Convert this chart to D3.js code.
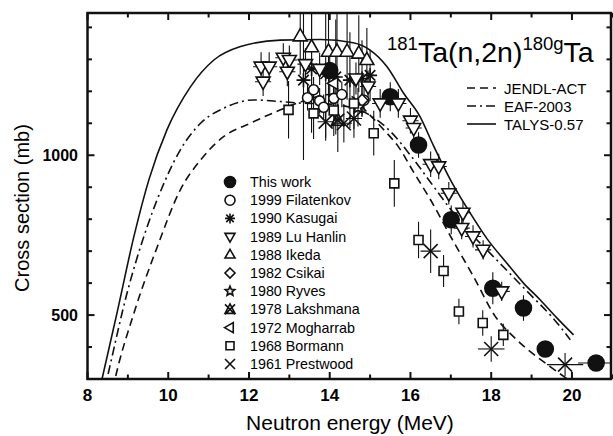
<!DOCTYPE html>
<html>
<head>
<meta charset="utf-8">
<script src="https://cdn.jsdelivr.net/npm/d3@7"></script>
<style>
  body { margin: 0; background: #fff; }
  svg { font-family: Arial, "Liberation Sans", sans-serif; }
</style>
</head>
<body>
<svg id="chart" width="613" height="436"></svg>
<script>
// model curves [E (MeV), sigma (mb)]
const talysCurve = [[8.2,210],[8.36,300],[8.73,506],[9.15,746],[9.52,923],[9.97,1080],[10.55,1214],[11.13,1298],[11.79,1340],[12.78,1360],[13.77,1362],[14.58,1352],[15.0,1329],[15.42,1277],[15.83,1194],[16.24,1120],[16.57,1030],[16.99,923],[17.45,825],[17.89,740],[18.39,662],[18.8,600],[19.21,548],[19.62,492],[20.04,438]];
const eafCurve = [[8.3,200],[8.49,304],[8.98,569],[9.48,777],[9.93,923],[10.3,1017],[10.8,1100],[11.37,1147],[12.12,1173],[12.78,1168],[13.3,1163],[14.0,1160],[14.5,1150],[15.0,1125],[15.5,1075],[16.0,1000],[16.5,915],[17.0,830],[17.5,755],[18.0,690],[18.5,625],[19.0,560],[19.5,495],[19.96,423]];
const jendlCurve = [[8.5,190],[8.69,304],[9.15,506],[9.73,714],[10.3,892],[10.8,985],[11.37,1058],[12.03,1100],[12.78,1142],[13.35,1170],[14.0,1190],[14.5,1185],[14.96,1130],[15.38,1074],[15.7,1027],[16.07,949],[16.5,860],[17.03,738],[17.56,621],[18.1,496],[18.63,423],[19.46,339],[20.0,290]];

// measurements [E, sigma, dE, dSigma]
const thisWork = [[14.0,1265,0.1,80],[15.5,1183,0.1,45],[16.2,1032,0.1,40],[17.01,798,0.1,45],[18.04,584,0.1,50],[18.8,522,0.1,40],[19.34,394,0.1,25],[20.6,350,0.45,20]];
const filatenkov = [[13.45,1180,0.1,40],[13.6,1205,0.1,40],[13.75,1170,0.1,40],[13.85,1150,0.1,40],[14.1,1178,0.1,40],[14.3,1190,0.1,40],[14.85,1172,0.1,40]];
const kasugai = [[13.35,1235,0.1,250],[13.55,1270,0.1,200],[13.9,1255,0.1,200],[14.15,1245,0.1,180],[14.5,1235,0.1,150],[14.8,1240,0.1,120],[15.0,1250,0.1,80]];
const luHanlin = [[12.3,1277,0.2,45],[12.5,1277,0.2,45],[12.35,1230,0.2,45],[12.85,1305,0.2,45],[13.0,1298,0.2,45],[12.95,1261,0.2,45],[13.4,1285,0.2,50],[13.75,1270,0.2,50],[14.65,1240,0.2,50],[14.95,1215,0.2,50],[15.25,1162,0.2,45],[15.7,1162,0.2,45],[16.0,1108,0.2,40],[16.08,1085,0.2,40],[16.5,972,0.2,40],[16.7,965,0.2,40],[16.95,881,0.2,35],[17.3,820,0.2,35],[17.27,772,0.2,35],[17.55,746,0.2,35],[17.8,704,0.2,30],[18.26,574,0.2,30]];
const ikeda = [[13.27,1372,0.1,120],[13.55,1338,0.1,150],[13.97,1324,0.1,180],[14.18,1324,0.1,160],[14.43,1324,0.1,150],[14.72,1318,0.1,120],[14.92,1298,0.1,100]];
const csikai = [[14.8,1172,0.1,50]];
const ryves = [[14.7,1150,0.1,60]];
const lakshmana = [[14.2,1110,0.1,100]];
const mogharrab = [[14.1,1225,0.1,60]];
const bormann = [[12.98,1142,0,90],[13.6,1131,0,80],[14.1,1140,0,80],[14.6,1162,0,80],[15.09,1069,0,70],[15.6,912,0,73],[16.2,735,0,57],[16.82,638,0,50],[17.2,511,0,40],[17.79,475,0,40],[18.3,438,0,35]];
const prestwood = [[13.9,1105,0.2,60],[14.35,1100,0.2,60],[14.6,1115,0.2,60],[16.5,700,0.25,68],[18.0,394,0.33,40],[19.83,345,0.45,36]];

const xTicks = [8, 10, 12, 14, 16, 18, 20];
const yTicks = [500, 1000];

const svg = d3.select('#chart');
const mLeft = 87.5, mRight = 611, mTop = 13, mBottom = 379;

const x = d3.scaleLinear().domain([8, 21]).range([mLeft, mLeft + 13 * 40.37]);
const y = d3.scaleLinear().domain([300, 1445]).range([mBottom, mTop]);

svg.append('defs').append('clipPath').attr('id', 'clip')
  .append('rect').attr('x', mLeft).attr('y', mTop).attr('width', mRight - mLeft).attr('height', mBottom - mTop);

// marker shapes, s = half size
function markerPath(type, s) {
  const p = d3.path();
  if (type === 'circle') { p.moveTo(s, 0); p.arc(0, 0, s, 0, 2 * Math.PI); p.closePath(); }
  else if (type === 'square') { p.rect(-s, -s, 2 * s, 2 * s); }
  else if (type === 'triUp') { p.moveTo(0, -s * 1.1); p.lineTo(s, s * 0.65); p.lineTo(-s, s * 0.65); p.closePath(); }
  else if (type === 'triDown') { p.moveTo(0, s * 1.1); p.lineTo(s, -s * 0.65); p.lineTo(-s, -s * 0.65); p.closePath(); }
  else if (type === 'triLeft') { p.moveTo(-s * 1.1, 0); p.lineTo(s * 0.65, -s); p.lineTo(s * 0.65, s); p.closePath(); }
  else if (type === 'diamond') { p.moveTo(0, -s); p.lineTo(s, 0); p.lineTo(0, s); p.lineTo(-s, 0); p.closePath(); }
  else if (type === 'star') {
    for (let i = 0; i < 10; i++) {
      const r = i % 2 ? s * 0.45 : s;
      const a = -Math.PI / 2 + i * Math.PI / 5;
      if (i === 0) p.moveTo(r * Math.cos(a), r * Math.sin(a)); else p.lineTo(r * Math.cos(a), r * Math.sin(a));
    }
    p.closePath();
  }
  else if (type === 'asterisk') {
    p.moveTo(0, -s); p.lineTo(0, s); p.moveTo(-s, 0); p.lineTo(s, 0);
    const d = s * 0.75;
    p.moveTo(-d, -d); p.lineTo(d, d); p.moveTo(-d, d); p.lineTo(d, -d);
  }
  else if (type === 'cross') { p.moveTo(-s, -s); p.lineTo(s, s); p.moveTo(-s, s); p.lineTo(s, -s); }
  else if (type === 'triCross') {
    p.moveTo(0, -s * 1.1); p.lineTo(s, s * 0.8); p.lineTo(-s, s * 0.8); p.closePath();
    p.moveTo(-s, -s); p.lineTo(s, s); p.moveTo(-s, s); p.lineTo(s, -s);
  }
  return p.toString();
}

const series = [
  { name: 'This work', data: thisWork, type: 'circle', size: 8, fill: '#111' },
  { name: '1999 Filatenkov', data: filatenkov, type: 'circle', size: 5, fill: '#fff' },
  { name: '1990 Kasugai', data: kasugai, type: 'asterisk', size: 7, fill: 'none' },
  { name: '1989 Lu Hanlin', data: luHanlin, type: 'triDown', size: 7, fill: '#fff' },
  { name: '1988 Ikeda', data: ikeda, type: 'triUp', size: 7, fill: '#fff' },
  { name: '1982 Csikai', data: csikai, type: 'diamond', size: 6, fill: '#fff' },
  { name: '1980 Ryves', data: ryves, type: 'star', size: 6.5, fill: '#fff' },
  { name: '1978 Lakshmana', data: lakshmana, type: 'triCross', size: 6.5, fill: 'none' },
  { name: '1972 Mogharrab', data: mogharrab, type: 'triLeft', size: 6, fill: '#fff' },
  { name: '1968 Bormann', data: bormann, type: 'square', size: 4.5, fill: '#fff' },
  { name: '1961 Prestwood', data: prestwood, type: 'cross', size: 7, fill: 'none' }
];

const plot = svg.append('g').attr('clip-path', 'url(#clip)');

// curves
const line = d3.line().x(d => x(d[0])).y(d => y(d[1])).curve(d3.curveMonotoneX);
const curves = [
  { name: 'JENDL-ACT', data: jendlCurve, dash: '8,5' },
  { name: 'EAF-2003', data: eafCurve, dash: '9,4,2,4' },
  { name: 'TALYS-0.57', data: talysCurve, dash: null }
];
curves.forEach(c => {
  plot.append('path').datum(c.data).attr('d', line)
    .attr('fill', 'none').attr('stroke', '#111').attr('stroke-width', 1.6)
    .attr('stroke-dasharray', c.dash);
});

// error bars
series.forEach(sr => {
  const g = plot.append('g').attr('stroke', '#111').attr('stroke-width', 1.1);
  sr.data.forEach(d => {
    g.append('line').attr('x1', x(d[0])).attr('x2', x(d[0])).attr('y1', y(d[1] - d[3])).attr('y2', y(d[1] + d[3]));
    if (d[2] > 0) g.append('line').attr('x1', x(d[0] - d[2])).attr('x2', x(d[0] + d[2])).attr('y1', y(d[1])).attr('y2', y(d[1]));
  });
});

// markers
series.forEach(sr => {
  plot.append('g').selectAll('path').data(sr.data).enter().append('path')
    .attr('transform', d => `translate(${x(d[0])},${y(d[1])})`)
    .attr('d', markerPath(sr.type, sr.size))
    .attr('fill', sr.fill).attr('stroke', '#111').attr('stroke-width', 1.6);
});

// frame and ticks
svg.append('rect').attr('x', mLeft).attr('y', mTop).attr('width', mRight - mLeft).attr('height', mBottom - mTop)
  .attr('fill', 'none').attr('stroke', '#111').attr('stroke-width', 2.5);

const tickG = svg.append('g').attr('stroke', '#111').attr('stroke-width', 2);
d3.range(8, 21.01, 1).forEach(v => {
  const len = v % 2 === 0 ? 7 : 4.5;
  tickG.append('line').attr('x1', x(v)).attr('x2', x(v)).attr('y1', mBottom).attr('y2', mBottom - len);
  tickG.append('line').attr('x1', x(v)).attr('x2', x(v)).attr('y1', mTop).attr('y2', mTop + len);
});
d3.range(300, 1401, 100).forEach(v => {
  const len = v % 500 === 0 ? 7 : 4.5;
  tickG.append('line').attr('x1', mLeft).attr('x2', mLeft + len).attr('y1', y(v)).attr('y2', y(v));
  tickG.append('line').attr('x1', mRight).attr('x2', mRight - len).attr('y1', y(v)).attr('y2', y(v));
});

svg.append('g').selectAll('text').data(xTicks).enter().append('text')
  .attr('x', d => x(d)).attr('y', 401).attr('text-anchor', 'middle')
  .attr('font-size', 17).attr('font-weight', 'bold').text(d => d);
svg.append('g').selectAll('text').data(yTicks).enter().append('text')
  .attr('x', 78).attr('y', d => y(d) + 6).attr('text-anchor', 'end')
  .attr('font-size', 16).attr('font-weight', 'bold').text(d => d);

// axis titles
svg.append('text').attr('x', 350).attr('y', 430).attr('text-anchor', 'middle')
  .attr('font-size', 21).text('Neutron energy (MeV)');
svg.append('text').attr('transform', 'translate(29,208) rotate(-90)').attr('text-anchor', 'middle')
  .attr('font-size', 20).text('Cross section (mb)');

// reaction label
const title = svg.append('text').attr('x', 387).attr('y', 62).attr('font-size', 28.5);
title.append('tspan').attr('font-size', 18.5).attr('dy', -12).text('181');
title.append('tspan').attr('dy', 12).text('Ta(n,2n)');
title.append('tspan').attr('font-size', 18.5).attr('dy', -12).text('180g');
title.append('tspan').attr('dy', 12).text('Ta');

// curve legend
curves.forEach((c, i) => {
  const ly = 88 + i * 18;
  svg.append('line').attr('x1', 467).attr('x2', 496).attr('y1', ly).attr('y2', ly)
    .attr('stroke', '#111').attr('stroke-width', 1.6).attr('stroke-dasharray', c.dash);
  svg.append('text').attr('x', 504).attr('y', ly + 5.5).attr('font-size', 15).text(c.name);
});

// symbol legend
series.forEach((sr, i) => {
  const ly = 182 + i * 18.2;
  svg.append('path').attr('transform', `translate(230,${ly})`)
    .attr('d', markerPath(sr.type, i === 0 ? 5.5 : (sr.type === 'square' ? 4 : 5)))
    .attr('fill', sr.fill).attr('stroke', '#111').attr('stroke-width', 1.6);
  svg.append('text').attr('x', 250).attr('y', ly + 5).attr('font-size', 14.3).text(sr.name);
});
</script>
</body>
</html>
